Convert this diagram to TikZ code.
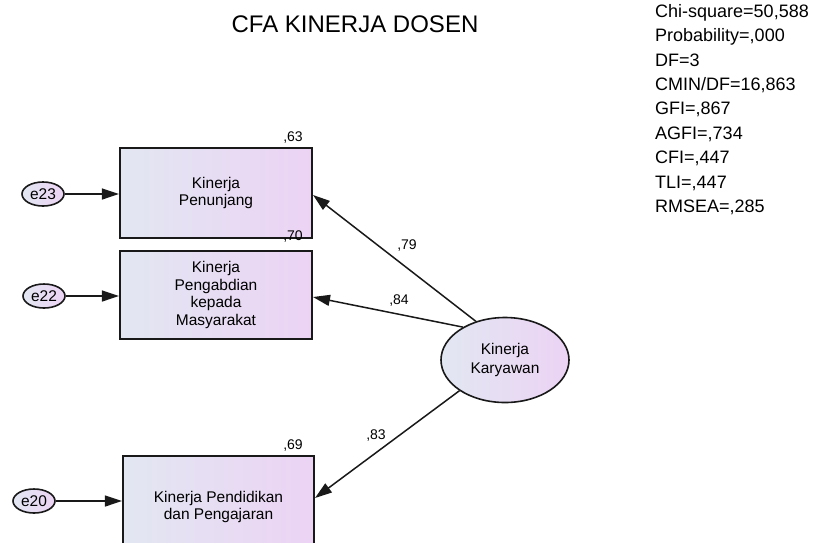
\documentclass[tikz,border=0pt]{standalone}
\usepackage{fontspec}
\setmainfont{Liberation Sans}
\usetikzlibrary{arrows.meta,shapes.geometric}

\definecolor{fillL}{RGB}{226,231,242}
\definecolor{fillR}{RGB}{236,211,244}
\definecolor{edge}{RGB}{25,25,25}

\tikzset{
  obsbox/.style={draw=edge, line width=2.2pt, left color=fillL, right color=fillR,
    minimum width=192pt, align=center, inner sep=0pt,
    font=\fontsize{15.5}{17.7}\selectfont},
  errvar/.style={ellipse, draw=edge, line width=1.6pt, left color=fillL, right color=fillR,
    minimum width=42pt, minimum height=24pt, inner sep=0pt,
    font=\fontsize{15.5}{17.7}\selectfont},
  latvar/.style={ellipse, draw=edge, line width=1.6pt, left color=fillL, right color=fillR,
    minimum width=128pt, minimum height=85pt, inner sep=0pt, align=center,
    font=\fontsize{15.5}{19}\selectfont},
  path/.style={line width=1.5pt, draw=edge, -{Triangle[length=17pt,width=11pt]}},
  coef/.style={font=\fontsize{14}{16}\selectfont, inner sep=0pt},
}

\begin{document}
\begin{tikzpicture}[x=1pt,y=-1pt]
\useasboundingbox (0,0) rectangle (822,542);
\clip (0,0) rectangle (822,542);

% title and fit statistics
\node[font=\fontsize{24}{28}\selectfont, inner sep=0pt] (title) at (355,24) {CFA KINERJA DOSEN};
\node[anchor=north west, align=left, inner sep=0pt,
      font=\fontsize{18}{24.4}\selectfont] (fit) at (655,4)
  {Chi-square=50,588\\Probability=,000\\DF=3\\CMIN/DF=16,863\\GFI=,867\\AGFI=,734\\CFI=,447\\TLI=,447\\RMSEA=,285};

% observed indicators
\node[obsbox, minimum height=90pt] (b1) at (216,193) {Kinerja\\Penunjang};
\node[obsbox, minimum height=88pt] (b2) at (216,295) {Kinerja\\Pengabdian\\kepada\\Masyarakat};
\node[obsbox, minimum width=191pt, minimum height=102pt] (b3) at (218.5,507) {Kinerja Pendidikan\\dan Pengajaran};

% error terms
\node[errvar] (e23) at (43,194) {e23};
\node[errvar] (e22) at (44,296) {e22};
\node[errvar] (e20) at (34,501) {e20};

% latent factor
\node[latvar] (lat) at (505,360) {Kinerja\\Karyawan};

% error paths
\draw[path] (e23.east) -- (e23.east -| b1.west);
\draw[path] (e22.east) -- (e22.east -| b2.west);
\draw[path] (e20.east) -- (e20.east -| b3.west);

% factor loadings
\coordinate (t1) at (313,195);
\coordinate (t2) at (313,297);
\coordinate (t3) at (315,498);
\draw[path] (lat.127) -- (t1);
\draw[path] (lat.142) -- (t2);
\draw[path] (lat.214) -- (t3);

% coefficients
\node[coef] (l79) at (407,246) {,79};
\node[coef] (l84) at (399,300) {,84};
\node[coef] (l83) at (376,435) {,83};
\node[coef] (r63) at (293,138) {,63};
\node[coef] (r70) at (293,236) {,70};
\node[coef] (r69) at (293,445) {,69};
\end{tikzpicture}
\end{document}
